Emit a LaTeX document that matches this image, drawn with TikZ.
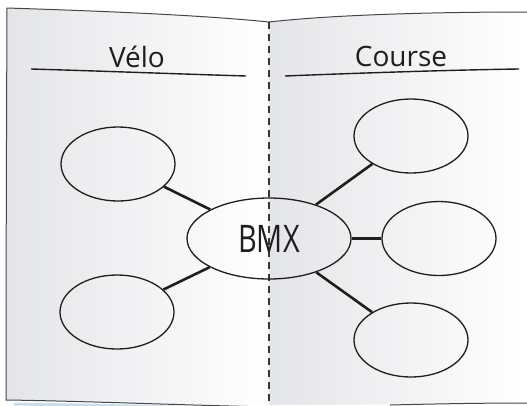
\documentclass[tikz,border=0pt]{standalone}
\usepackage{fontspec}
\setmainfont{Open Sans}
\newfontfamily\handnarrow[FakeStretch=0.76]{Open Sans}
\usetikzlibrary{shapes.geometric}
\definecolor{pagegray}{RGB}{228,229,232}
\definecolor{edgegray}{RGB}{70,70,70}
\definecolor{inkc}{RGB}{30,30,30}
\definecolor{shadowblue}{RGB}{200,222,235}
\tikzset{
  bubble/.style={ellipse, draw=inkc, line width=1.3pt, inner sep=0pt,
    minimum width=114pt, minimum height=74pt},
  link/.style={draw=inkc, line width=2.6pt},
  titletext/.style={font=\fontsize{28}{30}\selectfont, text=inkc, inner sep=0pt},
  ruler/.style={draw=inkc, line width=1.4pt},
  pageedge/.style={draw=edgegray, line width=1pt}
}
\begin{document}
\begin{tikzpicture}[x=1pt,y=-1pt]
\useasboundingbox (0,0) rectangle (527,405);
% bluish shadow under left page
\draw[shadowblue, line width=3pt] (14,404) .. controls (80,405) and (130,406) .. (175,407);
% left page
\shade[left color=pagegray, right color=white]
  (7,8) .. controls (100,11) and (200,15) .. (269,22)
  -- (269,407) .. controls (180,405) and (80,401) .. (6,400) -- cycle;
\draw[pageedge] (269,22) .. controls (200,15) and (100,11) .. (7,8)
  .. controls (6.5,130) and (6,270) .. (6,400)
  .. controls (80,401) and (180,405) .. (269,407);
% right page
\shade[left color=pagegray, right color=white]
  (269,22) .. controls (330,15) and (430,12) .. (527,12)
  -- (527,403) .. controls (430,404) and (330,405) .. (269,405) -- cycle;
\draw[pageedge] (269,22) .. controls (330,15) and (430,12) .. (527,12);
\draw[pageedge] (390,405) .. controls (430,404) and (480,403) .. (527,403);
% fold
\draw[draw=inkc!90, line width=1.8pt, dash pattern=on 7pt off 5pt] (269,22) -- (269,405);
% title rules
\draw[ruler] (31,69) .. controls (100,71) and (180,74) .. (246,76);
\draw[ruler] (285,76) .. controls (360,73) and (450,70) .. (519,69);
% titles
\node[titletext, anchor=base] (velo) at (137,67) {Vélo};
\node[titletext, anchor=base] (course) at (401,66) {Course};
% bubbles
\node[bubble, minimum width=164pt, minimum height=81pt] (bmx) at (269,238.5)
  {\handnarrow\fontsize{38}{40}\selectfont\color{inkc}BMX};
\node[bubble] (lt) at (118,164) {};
\node[bubble] (lb) at (117,312) {};
\node[bubble] (rt) at (411,136) {};
\node[bubble] (rm) at (439,238.5) {};
\node[bubble] (rb) at (411,340) {};
% links
\draw[link] (lt) -- (bmx);
\draw[link] (lb) -- (bmx);
\draw[link] (rt) -- (bmx);
\draw[link] (rm) -- (bmx);
\draw[link] (rb) -- (bmx);
\end{tikzpicture}
\end{document}
